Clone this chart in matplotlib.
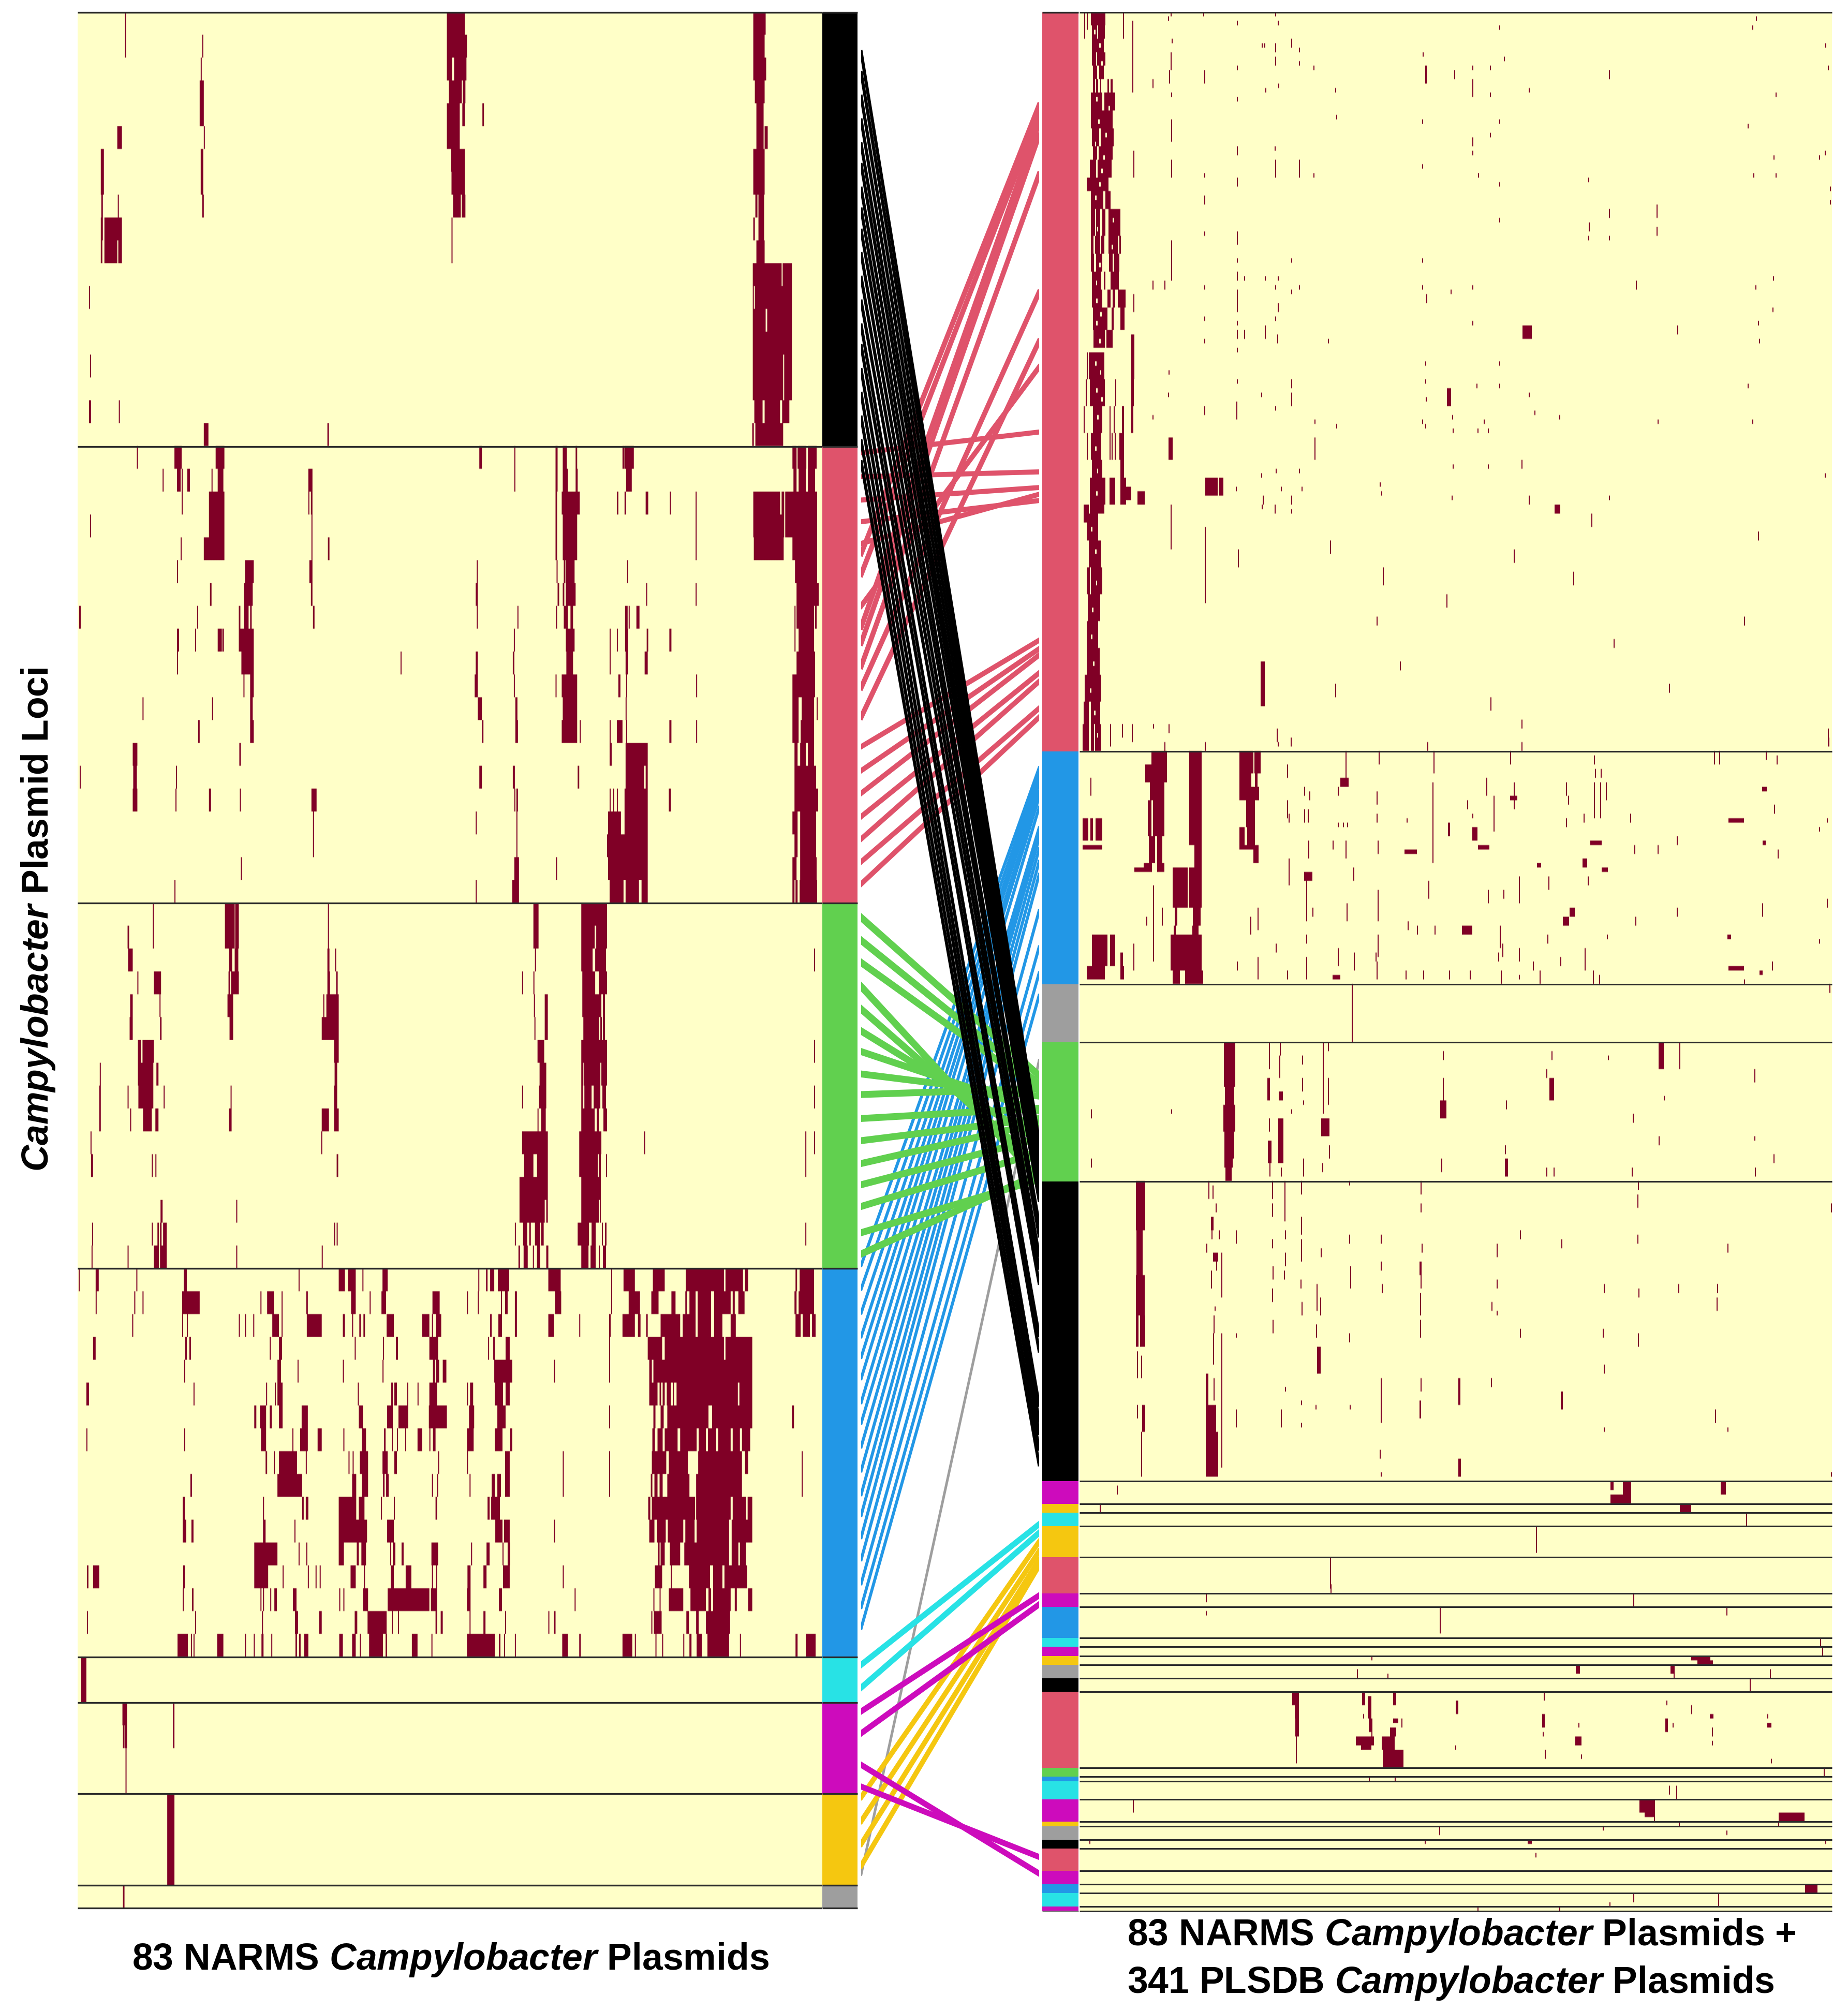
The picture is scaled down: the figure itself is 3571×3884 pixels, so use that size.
"""Campylobacter plasmid loci heatmaps, left vs right clustering, joined by connector lines"""
import numpy as np
import matplotlib
matplotlib.use('Agg')
import matplotlib.pyplot as plt
from matplotlib.colors import LinearSegmentedColormap

plt.rcParams['font.family'] = ['Liberation Sans', 'DejaVu Sans']
plt.rcParams['mathtext.fontset'] = 'custom'
plt.rcParams['mathtext.rm'] = 'Liberation Sans:bold'
plt.rcParams['mathtext.bf'] = 'Liberation Sans:bold'
plt.rcParams['mathtext.it'] = 'Liberation Sans:italic:bold'
plt.rcParams['mathtext.bfit'] = 'Liberation Sans:italic:bold'

W, H = 3571, 3884

COL = {'k': '#000000', 'r': '#DF536B', 'g': '#61D04F', 'b': '#2297E6',
       'c': '#28E2E5', 'm': '#CD0BBC', 'y': '#F5C710', 'a': '#9E9E9E'}

# cluster sizes, in plasmids (rows)
left_sizes = [19, 20, 16, 17, 2, 4, 4, 1]
left_clusters = ['k', 'r', 'g', 'b', 'c', 'm', 'y', 'a']

right_breaks = [0, 165, 217, 230, 261, 328, 333, 335, 338, 345, 353, 356, 363, 365, 367, 369,
                372, 375, 392, 394, 395, 399, 404, 405, 408, 410, 415, 418, 420, 423, 424]
right_clusters = ['r', 'b', 'a', 'g', 'k', 'm', 'y', 'c', 'y', 'r', 'm', 'b', 'c', 'm', 'y',
                  'a', 'k', 'r', 'g', 'b', 'c', 'm', 'y', 'a', 'k', 'r', 'm', 'b', 'c', 'm']

# left heatmap, present loci: (first row, end row, first col, end col)
left_black = [
    (0, 2, 112, 114), (1, 2, 262, 264), (2, 3, 259, 261), (3, 5, 257, 265), (5, 6, 265, 267),
    (6, 8, 259, 264), (8, 9, 262, 265), (5, 6, 97, 106), (6, 8, 65, 71), (8, 10, 66, 69),
    (8, 9, 98, 100), (9, 11, 72, 97), (9, 11, 99, 106), (9, 10, 97, 99), (9, 11, 65, 68),
    (0, 1, 737, 772), (1, 2, 737, 776), (2, 3, 737, 747), (2, 3, 751, 775), (3, 4, 741, 766),
    (3, 4, 768, 773), (4, 5, 737, 762), (4, 5, 767, 772), (4, 5, 806, 809), (5, 6, 737, 762),
    (6, 7, 745, 772), (7, 8, 746, 772), (8, 9, 749, 764), (8, 9, 766, 773), (9, 11, 746, 748),
    (0, 2, 1332, 1354), (0, 1, 1354, 1356), (2, 3, 1332, 1357), (3, 4, 1335, 1354),
    (4, 6, 1338, 1352), (5, 6, 1354, 1360), (6, 8, 1332, 1354), (8, 9, 1336, 1340),
    (8, 10, 1342, 1353), (9, 10, 1332, 1335), (10, 11, 1338, 1354),
    (11, 17, 1331, 1407), (17, 18, 1334, 1350), (17, 18, 1354, 1384), (17, 18, 1388, 1402),
    (18, 19, 1336, 1390), (18, 19, 1330, 1333),
    (12, 13, 42, 44), (15, 16, 44, 46), (17, 18, 42, 46), (17, 18, 100, 102),
    (18, 19, 265, 274), (18, 19, 505, 508),
]
left_black_gaps = [(11, 12, 1387, 1389), (13, 14, 1356, 1359), (15, 17, 1390, 1392), (12, 13, 1333, 1335)]

left_red = {
    19: [(135, 137), (208, 222), (288, 305), (800, 805), (868, 870), (948, 952), (962, 970), (987, 990),
         (1078, 1082), (1083, 1100), (1408, 1416), (1418, 1435), (1438, 1455)],
    20: [(185, 187), (213, 220), (233, 238), (222, 224), (280, 282), (292, 303), (468, 476), (868, 870),
         (948, 952), (962, 972), (987, 991), (1085, 1096), (1410, 1416), (1420, 1434), (1438, 1452)],
    21: [(222, 224), (275, 305), (468, 470), (473, 476), (948, 951), (960, 995), (1067, 1070), (1082, 1085),
         (1123, 1128), (1170, 1172), (1220, 1222), (1332, 1384), (1387, 1392), (1394, 1456)],
    22: [(44, 46), (275, 305), (474, 476), (948, 951), (962, 990), (1220, 1222), (1332, 1392), (1394, 1456)],
    23: [(220, 222), (265, 305), (474, 476), (506, 509), (948, 951), (962, 990), (1220, 1222), (1333, 1391),
         (1408, 1456)],
    24: [(213, 215), (345, 362), (470, 476), (795, 797), (950, 952), (964, 967), (968, 985), (1087, 1089),
         (1413, 1456)],
    25: [(277, 280), (343, 360), (473, 476), (793, 797), (952, 955), (962, 965), (968, 987), (1124, 1126),
         (1220, 1222), (1416, 1459)],
    26: [(23, 26), (252, 254), (333, 336), (343, 352), (355, 358), (477, 480), (795, 797), (874, 876),
         (949, 951), (964, 972), (977, 982), (1083, 1088), (1090, 1092), (1105, 1111), (1412, 1414),
         (1416, 1450), (1452, 1455)],
    27: [(213, 217), (248, 250), (292, 300), (301, 304), (333, 362), (867, 869), (968, 985), (1053, 1055),
         (1067, 1069), (1083, 1089), (1125, 1128), (1169, 1173), (1412, 1414), (1420, 1450)],
    28: [(213, 215), (338, 362), (647, 649), (793, 797), (865, 868), (969, 982), (1053, 1055), (1084, 1089),
         (1121, 1127), (1416, 1452)],
    29: [(342, 344), (355, 362), (791, 797), (867, 869), (948, 950), (960, 990), (1070, 1074), (1085, 1087),
         (1221, 1223), (1408, 1452)],
    30: [(146, 148), (281, 283), (355, 360), (797, 805), (870, 874), (962, 990), (1084, 1086), (1408, 1420),
         (1426, 1450), (1455, 1457)],
    31: [(254, 257), (355, 362), (805, 808), (870, 875), (960, 990), (995, 997), (1053, 1055), (1067, 1078),
         (1085, 1087), (1169, 1173), (1221, 1223), (1408, 1420), (1424, 1450)],
    32: [(127, 136), (334, 337), (1053, 1057), (1084, 1127), (1412, 1418), (1423, 1434), (1438, 1450)],
    33: [(24, 26), (128, 135), (211, 213), (800, 805), (865, 869), (991, 994), (1084, 1120), (1123, 1127),
         (1412, 1454)],
    34: [(127, 136), (210, 212), (275, 279), (335, 337), (474, 484), (868, 870), (872, 875), (1053, 1055),
         (1060, 1062), (1067, 1069), (1082, 1127), (1168, 1172), (1412, 1458)],
    35: [(477, 479), (793, 795), (872, 874), (1050, 1075), (1082, 1127), (1408, 1418), (1423, 1454)],
    36: [(477, 479), (872, 874), (1048, 1127), (1412, 1418), (1423, 1454)],
    37: [(337, 339), (868, 877), (949, 951), (1050, 1127), (1408, 1416), (1423, 1455)],
    38: [(208, 210), (793, 795), (864, 877), (1053, 1080), (1084, 1110), (1115, 1127), (1408, 1412),
         (1414, 1418), (1422, 1456)],
}

left_green = {
    39: [(166, 168), (306, 325), (326, 333), (506, 508), (905, 915), (998, 1048)],
    40: [(117, 120), (166, 168), (306, 325), (326, 333), (506, 508), (905, 915), (998, 1024), (1027, 1048)],
    41: [(118, 127), (314, 320), (325, 332), (505, 509), (520, 522), (908, 910), (998, 1020), (1025, 1046),
         (1450, 1452)],
    42: [(136, 138), (168, 182), (313, 316), (318, 333), (505, 510), (522, 525), (883, 885), (905, 907),
         (1000, 1025), (1032, 1048)],
    43: [(122, 127), (179, 181), (311, 322), (497, 499), (503, 527), (906, 908), (927, 933), (1000, 1037),
         (1040, 1044)],
    44: [(121, 127), (180, 183), (315, 322), (494, 527), (907, 909), (927, 933), (1002, 1032), (1035, 1038),
         (1040, 1044)],
    45: [(137, 143), (146, 168), (518, 527), (913, 926), (998, 1048), (1450, 1452)],
    46: [(63, 65), (137, 167), (173, 177), (519, 524), (917, 930), (998, 1002), (1003, 1035), (1037, 1048)],
    47: [(62, 65), (117, 119), (138, 167), (187, 189), (317, 319), (518, 524), (883, 885), (916, 930),
         (998, 1001), (1004, 1018), (1022, 1035), (1039, 1046), (1450, 1452)],
    48: [(62, 65), (122, 124), (147, 164), (171, 177), (314, 319), (494, 508), (518, 527), (913, 915),
         (920, 929), (998, 1024), (1028, 1032), (1041, 1048)],
    49: [(45, 47), (493, 495), (883, 933), (994, 1037), (1120, 1122), (1433, 1435), (1450, 1452)],
    50: [(46, 50), (164, 166), (171, 173), (523, 526), (887, 905), (912, 933), (994, 1030), (1032, 1036),
         (1046, 1048), (1433, 1435)],
    51: [(878, 933), (998, 1036)],
    52: [(181, 185), (328, 330), (878, 927), (930, 933), (998, 1032), (1034, 1036)],
    53: [(48, 50), (164, 166), (175, 178), (180, 183), (186, 193), (518, 520), (523, 525), (869, 871),
         (885, 893), (897, 900), (908, 918), (920, 925), (991, 1013), (1018, 1026), (1038, 1040), (1044, 1047),
         (1433, 1435)],
    54: [(47, 49), (117, 119), (168, 178), (180, 193), (328, 330), (494, 496), (876, 879), (886, 894),
         (904, 906), (912, 918), (930, 934), (998, 1012), (1016, 1026), (1032, 1034), (1040, 1046)],
}

left_blue = {
    55: [(22, 24), (55, 61), (134, 136), (226, 232), (449, 451), (527, 539), (545, 560), (573, 575), (612, 622),
         (798, 800), (813, 816), (821, 829), (836, 858), (934, 958), (1056, 1058), (1080, 1102), (1137, 1160),
         (1201, 1275), (1278, 1312), (1316, 1322), (1414, 1417), (1422, 1450)],
    56: [(55, 57), (130, 132), (146, 148), (223, 257), (375, 377), (388, 401), (416, 418), (464, 467),
         (551, 560), (587, 589), (610, 619), (709, 723), (776, 778), (797, 799), (842, 844), (850, 855),
         (869, 873), (947, 959), (1056, 1058), (1090, 1112), (1134, 1148), (1173, 1181), (1200, 1203),
         (1208, 1220), (1224, 1250), (1256, 1288), (1292, 1296), (1303, 1315), (1412, 1416), (1420, 1450)],
    57: [(126, 128), (223, 225), (232, 234), (333, 335), (345, 347), (361, 363), (398, 411), (416, 418),
         (465, 494), (535, 539), (553, 555), (567, 570), (575, 578), (620, 634), (689, 703), (708, 710),
         (716, 726), (821, 824), (837, 844), (869, 873), (934, 945), (994, 996), (1052, 1055), (1078, 1102),
         (1108, 1113), (1124, 1127), (1152, 1190), (1195, 1220), (1224, 1250), (1256, 1272), (1288, 1298),
         (1414, 1424), (1428, 1442), (1446, 1453)],
    58: [(50, 55), (229, 232), (237, 240), (393, 395), (411, 417), (558, 560), (613, 615), (638, 642),
         (703, 720), (817, 819), (827, 830), (851, 859), (1052, 1054), (1127, 1155), (1160, 1275), (1278, 1330)],
    59: [(227, 229), (408, 415), (447, 449), (535, 537), (612, 614), (710, 714), (716, 722), (729, 736),
         (829, 864), (945, 947), (1052, 1054), (1130, 1135), (1138, 1330)],
    60: [(37, 42), (245, 247), (386, 388), (403, 405), (408, 418), (564, 566), (629, 632), (635, 640),
         (660, 662), (680, 682), (703, 718), (776, 778), (782, 788), (830, 846), (851, 859), (1130, 1146),
         (1150, 1153), (1156, 1160), (1164, 1172), (1176, 1178), (1183, 1302), (1305, 1330)],
    61: [(363, 367), (374, 386), (393, 397), (411, 418), (455, 467), (566, 574), (621, 632), (643, 662),
         (702, 737), (780, 790), (835, 851), (1052, 1054), (1138, 1142), (1152, 1158), (1165, 1245),
         (1252, 1330), (1407, 1411)],
    62: [(37, 39), (227, 229), (376, 386), (437, 439), (452, 467), (486, 494), (536, 538), (572, 580),
         (615, 618), (630, 632), (640, 642), (656, 658), (680, 689), (703, 705), (710, 715), (776, 789),
         (830, 845), (860, 864), (1136, 1141), (1146, 1156), (1160, 1185), (1190, 1222), (1226, 1240),
         (1244, 1260), (1264, 1288), (1292, 1306), (1310, 1326)],
    63: [(385, 388), (401, 403), (411, 446), (463, 465), (546, 548), (554, 556), (568, 584), (612, 622),
         (635, 640), (720, 722), (776, 778), (850, 859), (962, 964), (1052, 1054), (1135, 1163), (1168, 1205),
         (1225, 1310), (1316, 1322), (1426, 1428)],
    64: [(239, 242), (408, 456), (553, 561), (572, 584), (613, 616), (619, 624), (708, 710), (718, 720),
         (781, 783), (824, 830), (835, 842), (850, 859), (962, 964), (1052, 1054), (1133, 1136), (1140, 1146),
         (1150, 1156), (1165, 1208), (1221, 1310), (1426, 1428)],
    65: [(224, 228), (380, 382), (456, 459), (463, 468), (527, 561), (566, 577), (609, 611), (634, 636),
         (715, 718), (816, 820), (823, 840), (1128, 1132), (1135, 1219), (1221, 1288), (1292, 1318), (1321, 1330)],
    66: [(224, 231), (241, 245), (380, 385), (441, 443), (527, 582), (621, 634), (831, 845), (848, 859),
         (945, 947), (1130, 1140), (1145, 1162), (1166, 1196), (1200, 1218), (1222, 1285), (1290, 1330)],
    67: [(363, 408), (449, 451), (464, 466), (527, 537), (562, 566), (571, 580), (627, 629), (632, 637),
         (649, 653), (707, 720), (784, 786), (814, 820), (845, 847), (855, 860), (1147, 1150), (1152, 1160),
         (1170, 1190), (1198, 1285), (1290, 1303), (1306, 1318)],
    68: [(38, 41), (50, 62), (225, 228), (363, 390), (418, 420), (467, 469), (482, 484), (490, 492), (550, 560),
         (576, 578), (628, 634), (657, 668), (708, 710), (716, 718), (777, 783), (808, 814), (846, 859),
         (962, 964), (1141, 1155), (1172, 1174), (1207, 1248), (1254, 1272), (1276, 1320)],
    69: [(224, 226), (242, 245), (375, 377), (380, 382), (394, 396), (402, 407), (438, 445), (528, 530),
         (536, 538), (574, 584), (622, 703), (706, 718), (776, 783), (838, 844), (985, 987), (1138, 1140),
         (1150, 1152), (1168, 1196), (1210, 1240), (1245, 1250), (1254, 1288), (1296, 1300), (1322, 1330)],
    70: [(38, 40), (248, 250), (378, 380), (442, 448), (489, 494), (558, 563), (583, 620), (630, 632),
         (642, 644), (715, 718), (725, 729), (781, 783), (808, 812), (850, 852), (934, 936), (945, 948),
         (1134, 1136), (1139, 1154), (1202, 1207), (1221, 1226), (1240, 1287)],
    71: [(214, 234), (240, 242), (245, 247), (291, 303), (345, 347), (362, 364), (377, 381), (396, 398),
         (443, 446), (450, 453), (460, 468), (528, 535), (553, 560), (568, 570), (586, 613), (618, 621),
         (669, 680), (707, 709), (776, 830), (838, 841), (848, 850), (869, 871), (961, 972), (994, 997),
         (1078, 1097), (1102, 1104), (1142, 1144), (1155, 1157), (1196, 1198), (1208, 1212), (1222, 1232),
         (1243, 1285), (1306, 1308), (1414, 1418), (1434, 1453)],
}

left_low = [
    (72, 74, 27, 37), (74, 75, 107, 116), (75, 76, 108, 111), (75, 76, 112, 116), (76, 78, 113, 115),
    (74, 76, 205, 208), (78, 82, 194, 208), (82, 83, 108, 111),
]

# right heatmap, wide patches: (first row, end row, first col, end col)
right_band = [
    (0, 3, 108, 136), (3, 6, 110, 120), (3, 6, 122, 135), (6, 9, 110, 133), (9, 12, 110, 118), (9, 12, 120, 136),
    (12, 15, 112, 120), (12, 15, 124, 133), (15, 18, 112, 116), (15, 18, 118, 122), (15, 18, 126, 128),
    (15, 18, 140, 143), (15, 18, 146, 150), (18, 22, 108, 130), (18, 22, 134, 155), (22, 26, 108, 150),
    (26, 30, 110, 124), (26, 30, 127, 152), (30, 33, 112, 120), (30, 33, 123, 150), (33, 37, 106, 118),
    (33, 37, 121, 148), (37, 40, 100, 112), (37, 40, 112, 142), (40, 44, 108, 132), (40, 44, 136, 146),
    (44, 50, 108, 116), (44, 50, 118, 126), (44, 50, 130, 136), (44, 50, 142, 165), (50, 54, 108, 113),
    (50, 54, 116, 126), (50, 54, 128, 134), (50, 54, 142, 160), (50, 54, 163, 166), (54, 58, 108, 114),
    (54, 58, 118, 130), (54, 58, 143, 150), (54, 58, 153, 163), (58, 62, 110, 128), (58, 62, 133, 136),
    (58, 62, 146, 162), (62, 66, 110, 130), (62, 66, 140, 146), (62, 66, 150, 155), (62, 66, 160, 175),
    (66, 71, 112, 140), (66, 71, 148, 152), (66, 71, 165, 173), (71, 75, 113, 135), (71, 75, 138, 150),
    (72, 76, 186, 192), (76, 82, 100, 102), (76, 82, 104, 134), (76, 82, 186, 192), (82, 88, 98, 100),
    (82, 88, 106, 135), (82, 88, 155, 157), (82, 88, 186, 191), (88, 94, 94, 96), (88, 94, 112, 130),
    (88, 94, 144, 146), (88, 94, 152, 154), (88, 94, 168, 172), (88, 94, 186, 190), (94, 100, 100, 102),
    (94, 100, 108, 128), (94, 100, 144, 146), (94, 100, 148, 150), (94, 100, 154, 156), (94, 100, 163, 172),
    (95, 100, 258, 266), (100, 104, 110, 130), (100, 104, 165, 172), (104, 110, 106, 136), (104, 110, 144, 155),
    (104, 110, 165, 176), (106, 109, 176, 186), (107, 110, 198, 212), (110, 112, 106, 134), (112, 118, 100, 122),
    (118, 124, 104, 128), (124, 130, 100, 106), (124, 130, 108, 130), (130, 136, 102, 126), (136, 142, 100, 122),
    (142, 148, 100, 125), (148, 154, 96, 128), (154, 159, 94, 104), (154, 159, 108, 126), (159, 165, 92, 104),
    (159, 165, 108, 114), (159, 165, 116, 128), (110, 114, 94, 104),
]
# pale flecks inside the dense band
right_band_gaps = [
    (4, 5, 114, 117), (7, 8, 124, 127), (11, 12, 128, 131), (19, 20, 118, 121), (21, 22, 142, 145), (24, 25, 122, 125),
    (27, 28, 136, 139), (29, 30, 116, 118), (32, 33, 132, 135), (35, 36, 128, 131), (38, 39, 124, 127), (41, 42, 116, 119),
    (46, 47, 150, 153), (48, 49, 120, 122), (52, 53, 148, 151), (56, 57, 124, 127), (60, 61, 118, 120), (64, 65, 118, 121),
    (67, 68, 126, 129), (69, 70, 118, 121), (73, 74, 124, 127), (78, 79, 116, 119), (80, 81, 126, 128), (84, 85, 118, 121),
    (86, 87, 128, 131), (90, 91, 120, 123), (97, 98, 116, 119), (102, 103, 120, 122), (107, 108, 118, 121), (115, 116, 108, 111),
    (120, 121, 116, 119), (127, 128, 118, 120), (133, 134, 110, 113), (139, 140, 108, 111), (145, 146, 112, 115),
    (151, 152, 106, 109), (156, 157, 114, 117), (161, 162, 120, 122),
]
right_spots = [
    (70, 73, 942, 960), (84, 88, 796, 804), (104, 108, 329, 353), (104, 108, 356, 364), (110, 112, 1004, 1015),
    (145, 155, 436, 444), (12, 16, 754, 757),
    (165, 168, 225, 255), (168, 172, 213, 255), (172, 176, 222, 250), (176, 184, 218, 225), (176, 184, 228, 250),
    (184, 190, 220, 232), (184, 190, 236, 246), (190, 192, 210, 226), (190, 192, 236, 250), (165, 186, 298, 322),
    (186, 195, 308, 322), (191, 200, 266, 295), (191, 200, 298, 322), (200, 204, 270, 275), (200, 204, 305, 320),
    (204, 206, 268, 272), (204, 206, 304, 316), (206, 214, 262, 322), (214, 217, 266, 280), (214, 217, 290, 325),
    (165, 170, 395, 422), (165, 170, 424, 436), (170, 174, 395, 418), (170, 174, 425, 430), (173, 176, 395, 433),
    (176, 182, 408, 425), (182, 186, 395, 405), (182, 186, 410, 425), (186, 187, 395, 432), (187, 190, 422, 432),
    (180, 185, 92, 103), (180, 185, 107, 112), (180, 185, 117, 130), (186, 187, 92, 130), (206, 213, 110, 140),
    (206, 213, 145, 155), (210, 214, 165, 170), (213, 216, 100, 135), (213, 216, 165, 172),
    (171, 173, 590, 606), (180, 181, 1340, 1370), (213, 214, 1340, 1370), (187, 188, 714, 738), (204, 206, 825, 845),
    (192, 194, 520, 536), (186, 187, 856, 878), (175, 176, 918, 932), (185, 186, 1073, 1095), (191, 192, 192, 225),
    (215, 216, 575, 590), (202, 204, 1020, 1032), (200, 202, 1033, 1043), (189, 191, 1058, 1067), (181, 184, 798, 802),
    (182, 185, 845, 855), (191, 192, 1095, 1107), (190, 191, 970, 978), (173, 174, 1405, 1414), (185, 186, 1406, 1412),
    (206, 207, 1338, 1345), (214, 215, 1400, 1406),
    (230, 240, 365, 387), (240, 246, 367, 385), (244, 250, 364, 387), (250, 256, 366, 385), (256, 258, 366, 382),
    (258, 261, 368, 380), (238, 243, 449, 454), (241, 243, 471, 479), (252, 257, 450, 457), (247, 257, 470, 480),
    (247, 251, 553, 569), (243, 247, 783, 795), (238, 243, 994, 1003), (256, 260, 908, 914), (230, 236, 1205, 1215),
    (261, 272, 195, 213), (272, 282, 196, 208), (282, 291, 195, 212), (291, 298, 195, 200), (291, 298, 203, 213),
    (311, 317, 207, 213), (304, 311, 330, 335), (311, 317, 330, 350), (317, 327, 330, 354), (298, 304, 545, 552),
    (277, 279, 344, 354), (279, 282, 743, 747), (269, 272, 340, 345), (305, 311, 818, 822), (323, 327, 818, 823),
    (308, 312, 1016, 1020), (310, 314, 743, 746),
    (328, 333, 1136, 1152), (328, 330, 1112, 1118), (331, 333, 1112, 1136), (328, 331, 1325, 1335),
    (333, 335, 1246, 1268), (367, 368, 1268, 1305), (368, 369, 1280, 1310), (369, 371, 1045, 1053),
    (369, 371, 1228, 1236), (375, 378, 497, 510), (378, 381, 502, 510), (381, 385, 503, 510), (375, 378, 632, 638),
    (376, 381, 643, 650), (381, 384, 645, 652), (385, 387, 620, 655), (387, 388, 630, 650), (375, 378, 692, 698),
    (381, 382, 692, 702), (383, 385, 686, 698), (385, 388, 670, 695), (388, 392, 672, 712), (377, 380, 813, 818),
    (380, 383, 980, 985), (385, 387, 1044, 1056), (381, 384, 1218, 1223), (380, 381, 1304, 1311), (382, 383, 1415, 1423),
    (399, 402, 1168, 1198), (402, 403, 1178, 1198), (402, 404, 1437, 1487), (418, 420, 1488, 1512),
    (408, 409, 952, 960),
]

# right heatmap, single loci: (col, first row, end row)
right_ticks = [
    (95, 0, 6), (100, 0, 4), (262, 0, 1), (325, 0, 1), (257, 1, 2), (464, 0, 1), (390, 2, 3), (469, 2, 3), (897, 3, 4),
    (1393, 1, 2), (1386, 3, 4), (170, 0, 6), (188, 2, 18), (264, 6, 7), (495, 6, 8), (438, 7, 8), (443, 7, 8), (464, 7, 9),
    (510, 8, 9), (1527, 7, 8), (749, 9, 10), (262, 9, 13), (464, 10, 12), (906, 10, 11), (510, 11, 12), (538, 12, 13),
    (390, 12, 13), (845, 12, 13), (879, 12, 13), (1532, 12, 13), (810, 13, 15), (1109, 13, 15), (845, 15, 19), (327, 13, 16),
    (259, 13, 16), (227, 15, 17), (470, 16, 17), (445, 17, 18), (580, 17, 18), (954, 17, 18), (263, 18, 19), (390, 19, 20),
    (879, 18, 19), (1431, 18, 19), (582, 23, 24), (748, 24, 25), (897, 24, 25), (1377, 25, 26), (263, 24, 29), (879, 27, 28),
    (845, 28, 30), (390, 30, 32), (463, 30, 31), (845, 31, 32), (1427, 32, 33), (1515, 32, 33), (1526, 31, 32), (464, 33, 37),
    (510, 33, 37), (263, 33, 37), (190, 31, 37), (327, 36, 37), (538, 36, 37), (748, 34, 35), (856, 36, 37), (1388, 36, 37),
    (1431, 36, 37), (390, 37, 39), (1069, 37, 38), (897, 38, 39), (1536, 39, 40), (327, 41, 43), (1536, 42, 43), (1109, 44, 46),
    (1201, 43, 46), (897, 46, 47), (1070, 47, 49), (327, 49, 50), (390, 49, 52), (1069, 50, 51), (1109, 50, 51), (1201, 48, 50),
    (263, 51, 59), (748, 55, 56), (390, 55, 56), (495, 55, 56), (390, 58, 60), (404, 59, 60), (444, 59, 60), (469, 59, 60),
    (1426, 59, 60), (227, 60, 62), (250, 60, 62), (263, 59, 60), (1161, 60, 62), (1392, 61, 62), (464, 61, 62), (510, 61, 62),
    (327, 61, 62), (748, 61, 62), (803, 62, 63), (845, 61, 62), (756, 63, 65), (495, 62, 63), (390, 62, 67), (469, 65, 67),
    (1425, 66, 67), (190, 63, 67), (464, 68, 69), (390, 69, 70), (327, 68, 69), (845, 69, 70), (1397, 69, 70), (1241, 70, 72),
    (390, 71, 73), (404, 71, 73), (444, 70, 73), (468, 72, 74), (327, 73, 74), (566, 73, 74), (1399, 73, 74), (390, 75, 76),
    (754, 78, 79), (897, 78, 79), (258, 80, 81), (390, 82, 83), (495, 82, 84), (754, 82, 83), (853, 83, 84), (897, 83, 84),
    (1377, 83, 84), (257, 85, 86), (437, 85, 86), (495, 85, 88), (755, 86, 87), (954, 85, 86), (327, 88, 90), (389, 87, 91),
    (464, 88, 89), (965, 89, 90), (227, 90, 91), (806, 90, 91), (1013, 90, 91), (540, 91, 92), (748, 91, 92), (867, 91, 92),
    (1203, 91, 92), (1386, 91, 92), (582, 92, 93), (754, 92, 93), (807, 93, 94), (855, 93, 94), (875, 93, 94), (540, 95, 100),
    (807, 101, 102), (875, 101, 102), (940, 100, 102), (465, 102, 103), (510, 102, 103), (437, 103, 104), (1526, 103, 104),
    (666, 105, 106), (669, 107, 108), (388, 106, 107), (475, 106, 107), (515, 106, 107), (495, 108, 110), (440, 108, 110),
    (805, 108, 109), (954, 108, 110), (1109, 108, 109), (438, 110, 111), (463, 110, 112), (495, 111, 112),
    (328, 115, 132), (262, 110, 120), (1397, 116, 118), (570, 118, 121), (672, 124, 128), (660, 135, 137), (795, 130, 133),
    (925, 120, 123), (1040, 125, 128), (1075, 112, 115), (1532, 160, 164), (467, 160, 163), (494, 162, 164), (940, 158, 160),
    (1118, 140, 142), (1225, 150, 152), (580, 150, 153), (705, 145, 147), (880, 153, 156), (1370, 135, 137), (392, 120, 124),
    (145, 159, 164), (168, 159, 162), (187, 159, 163), (228, 159, 160), (258, 159, 161), (469, 163, 164), (328, 163, 165),
    (250, 163, 165), (758, 163, 165), (940, 163, 165), (1533, 162, 164),
    (600, 165, 172), (664, 165, 168), (770, 165, 170), (768, 172, 190), (918, 165, 168), (1080, 166, 168), (1082, 169, 171),
    (1093, 169, 171), (1312, 165, 168), (1322, 165, 168), (1412, 165, 167), (1433, 166, 168), (487, 168, 171), (107, 171, 175),
    (520, 173, 175), (530, 174, 176), (585, 173, 175), (660, 174, 177), (487, 176, 180), (520, 178, 181), (527, 178, 181),
    (490, 179, 181), (660, 179, 181), (585, 181, 182), (595, 181, 182), (603, 181, 182), (718, 180, 181), (835, 176, 178),
    (845, 179, 180), (872, 171, 175), (886, 175, 183), (925, 172, 178), (1026, 172, 175), (1030, 175, 177), (1080, 172, 180),
    (1092, 172, 180), (1103, 172, 176), (1026, 180, 182), (1060, 179, 181), (1150, 179, 181), (1240, 184, 186), (1203, 186, 188),
    (1158, 186, 188), (1435, 187, 189), (1515, 182, 183), (1530, 180, 181), (1428, 177, 179), (528, 185, 189), (662, 185, 188),
    (600, 185, 189), (575, 185, 187), (490, 189, 195), (524, 194, 203), (615, 191, 194), (662, 196, 203), (602, 199, 203),
    (536, 200, 202), (430, 200, 205), (416, 202, 206), (720, 203, 205), (738, 204, 206), (772, 204, 206), (875, 196, 199),
    (905, 196, 198), (935, 193, 199), (992, 193, 196), (1068, 193, 195), (1405, 199, 202), (1240, 200, 202), (1160, 202, 204),
    (1530, 198, 200), (760, 194, 198), (898, 204, 209), (903, 208, 211), (990, 206, 208), (1105, 206, 207), (1515, 207, 208),
    (524, 206, 208), (662, 206, 211), (616, 210, 214), (658, 210, 212), (660, 212, 216), (524, 211, 216), (487, 214, 216),
    (465, 208, 210), (430, 211, 216), (390, 212, 214), (895, 210, 212), (935, 209, 212), (962, 212, 214), (1015, 211, 213),
    (1062, 209, 214), (1078, 214, 217), (1090, 215, 217), (585, 209, 213), (716, 214, 216), (800, 214, 216), (750, 214, 216),
    (840, 214, 216), (900, 214, 217), (935, 215, 216), (975, 214, 217), (1424, 212, 214), (1370, 216, 217), (228, 195, 212),
    (245, 200, 204), (215, 202, 204), (190, 208, 214), (612, 217, 230), (1535, 217, 219),
    (452, 230, 236), (472, 233, 238), (473, 230, 233), (452, 247, 250), (556, 230, 236), (566, 230, 232), (556, 236, 246),
    (566, 238, 244), (516, 233, 235), (516, 238, 241), (518, 243, 244), (788, 232, 234), (788, 238, 243), (998, 232, 234),
    (988, 236, 238), (908, 253, 255), (1245, 230, 236), (1390, 236, 239), (1215, 242, 243), (1107, 233, 234), (108, 245, 247),
    (263, 245, 246), (495, 245, 246), (1155, 246, 248), (910, 243, 245), (1205, 251, 253), (1390, 251, 252), (1427, 255, 257),
    (108, 256, 258), (453, 257, 260), (475, 258, 260), (518, 256, 260), (1153, 258, 260), (785, 256, 259), (988, 258, 260),
    (1002, 258, 260), (1391, 258, 260), (568, 253, 256), (555, 257, 259),
    (205, 300, 305), (197, 299, 305), (197, 311, 314), (205, 317, 327), (335, 261, 265), (343, 262, 265), (349, 266, 268),
    (341, 272, 274), (355, 272, 274), (331, 275, 277), (360, 277, 287), (350, 279, 281), (340, 281, 285), (347, 289, 290),
    (345, 291, 295), (344, 295, 302), (360, 295, 325), (345, 305, 310), (458, 261, 265), (458, 266, 269), (458, 274, 276),
    (459, 280, 283), (458, 285, 288), (459, 292, 295), (482, 261, 270), (483, 272, 274), (483, 277, 280), (481, 281, 283),
    (514, 261, 264), (514, 269, 273), (514, 274, 279), (513, 283, 285), (515, 288, 291), (544, 284, 290), (551, 287, 291),
    (543, 293, 296), (607, 261, 262), (607, 273, 275), (609, 280, 285), (607, 295, 297), (668, 273, 275), (668, 279, 281),
    (670, 284, 286), (745, 261, 264), (745, 266, 268), (747, 275, 277), (745, 282, 285), (744, 286, 291), (744, 292, 296),
    (388, 272, 275), (388, 295, 296), (552, 276, 278), (892, 275, 278), (892, 283, 285), (882, 288, 290), (892, 290, 291),
    (937, 272, 274), (937, 294, 296), (1017, 274, 276), (1165, 261, 263), (1164, 264, 267), (1164, 273, 275), (1166, 285, 287),
    (1165, 295, 298), (1099, 284, 286), (1097, 294, 296), (1099, 302, 304), (1243, 284, 286), (1318, 284, 286), (1317, 287, 290),
    (1338, 275, 277), (668, 305, 315), (745, 305, 308), (881, 305, 307), (475, 312, 316), (388, 312, 316), (483, 307, 308),
    (514, 310, 311), (542, 311, 312), (608, 311, 312), (1314, 312, 315), (514, 315, 316), (1099, 316, 317), (1338, 316, 317),
    (666, 321, 323), (668, 326, 327), (1538, 326, 327), (1538, 266, 268),
    (158, 329, 331), (125, 333, 335), (1374, 335, 338), (968, 338, 344), (570, 345, 352), (571, 351, 353), (330, 353, 355),
    (1156, 353, 356), (330, 357, 358), (782, 356, 362), (1336, 356, 358), (1517, 363, 365), (1521, 365, 367), (650, 367, 368),
    (622, 370, 372), (1420, 370, 372), (681, 371, 372), (1234, 371, 372), (1381, 372, 375), (504, 385, 391), (634, 380, 381),
    (650, 384, 386), (708, 381, 383), (983, 375, 377), (981, 384, 385), (985, 388, 390), (1050, 382, 383), (1055, 389, 390),
    (812, 387, 388), (1220, 377, 378), (1232, 382, 383), (1268, 378, 380), (1308, 383, 385), (1308, 386, 387), (1415, 380, 381),
    (1422, 390, 391), (1524, 392, 394), (645, 394, 395), (695, 394, 395), (1225, 396, 398), (1239, 396, 399), (189, 399, 402),
    (1196, 402, 404), (1244, 404, 405), (1436, 404, 405), (781, 405, 407), (1097, 405, 406), (1336, 406, 407), (105, 408, 409),
    (753, 408, 409), (1527, 408, 409), (967, 411, 412), (1156, 420, 422), (1320, 420, 423), (1110, 422, 423), (855, 423, 424),
    (1013, 423, 424),
]

# connectors: row on the left heatmap -> row on the right heatmap, per cluster
black_from = [1.72, 2.63, 3.67, 4.71, 5.76, 6.66, 7.70, 8.61, 9.54, 10.56, 11.60, 12.64, 13.69, 14.59, 15.64, 16.68, 17.72, 18.76, 19.67]
black_to = [251.9, 253.8, 256.1, 258.4, 260.7, 263.0, 265.3, 270.5, 273.2, 277.5, 280.4, 283.8, 295.4, 298.9, 311.0, 314.5, 317.3, 320.8, 324.3]
red_from = [19.28, 20.33, 21.35, 22.30, 23.25, 23.70, 24.61, 25.99, 26.92, 27.62, 28.64, 29.57, 30.86, 32.15, 33.20, 34.19, 35.21, 36.19, 37.19, 38.16]
red_to = [93.7, 102.6, 106.1, 109.0, 107.6, 20.7, 22.8, 79.2, 24.7, 27.4, 36.1, 62.5, 73.4, 140.2, 142.1, 143.5, 147.5, 149.4, 155.4, 157.4]
green_from = [39.63, 40.63, 41.60, 42.65, 43.64, 44.60, 45.50, 46.48, 47.38, 48.43, 49.40, 50.40, 51.33, 52.28, 53.43, 54.36]
green_to = [237.4, 239.3, 240.7, 260.6, 257.3, 251.9, 245.3, 242.0, 240.3, 244.7, 247.0, 248.0, 251.4, 254.6, 260.6, 259.3]
blue_from = [54.86, 55.90, 56.95, 57.99, 58.89, 59.82, 60.87, 61.77, 62.81, 63.86, 64.90, 65.81, 66.78, 67.75, 68.80, 69.84, 70.75]
blue_to = [168.7, 170.0, 171.2, 172.3, 174.0, 175.2, 177.5, 182.1, 183.3, 184.4, 186.8, 189.6, 192.5, 200.6, 208.7, 214.5, 219.5]
cyan_from = [72.35, 73.35]
cyan_to = [337.6, 339.5]
magenta_from = [74.39, 75.35, 76.73, 77.68]
magenta_to = [353.5, 355.5, 415.6, 411.9]
yellow_from = [78.15, 79.2, 80.2, 81.15]
yellow_to = [341.5, 343.6, 345.5, 346.8]
gray_from = [81.53]
gray_to = [234.0]


def add_axes(fig, x0, y0, x1, y1):
    ax = fig.add_axes([x0 / W, 1 - y1 / H, (x1 - x0) / W, (y1 - y0) / H])
    ax.axis('off')
    return ax


def heat_image(ax, mat, nrows, first_col, last_col, repeat):
    # repeat rows so the slight smoothing only softens the edges of each cell
    ax.imshow(np.repeat(mat, repeat, axis=0), cmap=heat_cmap, vmin=0, vmax=1, aspect='auto',
              interpolation='bilinear', interpolation_stage='data',
              extent=(first_col, last_col, nrows, 0))
    ax.set_xlim(first_col, last_col)
    ax.set_ylim(nrows, 0)


def side_bar(ax, starts, sizes, names, nrows):
    ax.barh(starts, [1] * len(sizes), height=sizes, align='edge',
            color=[COL[n] for n in names], linewidth=0)
    ax.set_xlim(0, 1)
    ax.set_ylim(nrows, 0)


heat_cmap = LinearSegmentedColormap.from_list('plasmid', ['#FFFFC8', '#800026'])

fig = plt.figure(figsize=(W / 100, H / 100), dpi=100, facecolor='white')

# left heatmap
LEFT_COL0, LEFT_COL1 = 20, 1465
left_n = sum(left_sizes)
left_mat = np.zeros((left_n, LEFT_COL1 - LEFT_COL0))
for r0, r1, c0, c1 in left_black + left_low:
    left_mat[r0:r1, c0 - LEFT_COL0:c1 - LEFT_COL0] = 1
for r0, r1, c0, c1 in left_black_gaps:
    left_mat[r0:r1, c0 - LEFT_COL0:c1 - LEFT_COL0] = 0
for group in (left_red, left_green, left_blue):
    for row, runs in group.items():
        for c0, c1 in runs:
            left_mat[row, c0 - LEFT_COL0:c1 - LEFT_COL0] = 1

LEFT_TOP, LEFT_BOTTOM = 24, 3687
left_ax = add_axes(fig, 150, LEFT_TOP, 1588, LEFT_BOTTOM)
heat_image(left_ax, left_mat, left_n, LEFT_COL0, LEFT_COL1, 22)

left_starts = np.cumsum([0] + left_sizes[:-1])
left_side = add_axes(fig, 1589, LEFT_TOP, 1657, LEFT_BOTTOM)
side_bar(left_side, left_starts, left_sizes, left_clusters, left_n)

# right heatmap
RIGHT_COL0, RIGHT_COL1 = 86, 1540
TICK_WIDTH = 2
right_n = right_breaks[-1]
right_mat = np.zeros((right_n, RIGHT_COL1 - RIGHT_COL0))
for r0, r1, c0, c1 in right_band + right_spots:
    right_mat[r0:r1, max(c0 - RIGHT_COL0, 0):c1 - RIGHT_COL0] = 1
for r0, r1, c0, c1 in right_band_gaps:
    right_mat[r0:r1, c0 - RIGHT_COL0:c1 - RIGHT_COL0] = 0
for col, r0, r1 in right_ticks:
    right_mat[r0:r1, col - RIGHT_COL0:col - RIGHT_COL0 + TICK_WIDTH] = 1

RIGHT_TOP, RIGHT_BOTTOM = 24, 3693
right_ax = add_axes(fig, 2086, RIGHT_TOP, 3540, RIGHT_BOTTOM)
heat_image(right_ax, right_mat, right_n, RIGHT_COL0, RIGHT_COL1, 4)

right_sizes = list(np.diff(right_breaks))
right_side = add_axes(fig, 2014, RIGHT_TOP, 2084, RIGHT_BOTTOM)
side_bar(right_side, right_breaks[:-1], right_sizes, right_clusters, right_n)

# cluster separators
sep_color = '#2b2b2b'
for y in list(left_starts) + [left_n]:
    left_ax.plot([0, 1], [y, y], transform=left_ax.get_yaxis_transform(), color=sep_color, lw=2.4,
                 clip_on=False, solid_capstyle='butt')
    left_side.plot([0, 1], [y, y], color=sep_color, lw=2.4, clip_on=False, solid_capstyle='butt')
for y in right_breaks:
    right_ax.plot([0, 1], [y, y], transform=right_ax.get_yaxis_transform(), color=sep_color, lw=2.2,
                  clip_on=False, solid_capstyle='butt')
right_side.plot([0, 1], [0, 0], color=sep_color, lw=2.4, clip_on=False, solid_capstyle='butt')
right_side.plot([0, 1], [right_n, right_n], color='#777777', lw=2.0, clip_on=False, solid_capstyle='butt')

# connector lines, bottom layer first
conn_ax = add_axes(fig, 1664, LEFT_TOP, 2008, LEFT_BOTTOM)
conn_ax.set_xlim(0, 1)
conn_ax.set_ylim(left_n, 0)
right_row_h = (RIGHT_BOTTOM - RIGHT_TOP) / right_n
left_row_h = (LEFT_BOTTOM - LEFT_TOP) / left_n
layers = [
    (gray_from, gray_to, 'a', 3.6),
    (yellow_from, yellow_to, 'y', 7.0),
    (magenta_from, magenta_to, 'm', 8.0),
    (cyan_from, cyan_to, 'c', 8.0),
    (blue_from, blue_to, 'b', 4.2),
    (green_from, green_to, 'g', 9.5),
    (red_from, red_to, 'r', 7.0),
    (black_from, black_to, 'k', 4.4),
]
for rows_from, rows_to, name, lw in layers:
    for a, b in zip(rows_from, rows_to):
        conn_ax.plot([0, 1], [a, b * right_row_h / left_row_h], color=COL[name], lw=lw,
                     solid_capstyle='projecting')

# labels
label_size = 51.5
fig.text(870 / W, 1 - 3787 / H, r'83 NARMS $\mathit{Campylobacter}$ Plasmids', fontsize=label_size,
         fontweight='bold', ha='center', va='center')
fig.text(2178 / W, 1 - 3740 / H, r'83 NARMS $\mathit{Campylobacter}$ Plasmids +', fontsize=label_size,
         fontweight='bold', ha='left', va='center')
fig.text(2178 / W, 1 - 3832 / H, r'341 PLSDB $\mathit{Campylobacter}$ Plasmids', fontsize=label_size,
         fontweight='bold', ha='left', va='center')
fig.text(74 / W, 1 - 1777 / H, r'$\mathit{Campylobacter}$ Plasmid Loci', fontsize=label_size,
         fontweight='bold', rotation=90, ha='center', va='center')

fig.savefig('out.png', dpi=100, facecolor='white')
